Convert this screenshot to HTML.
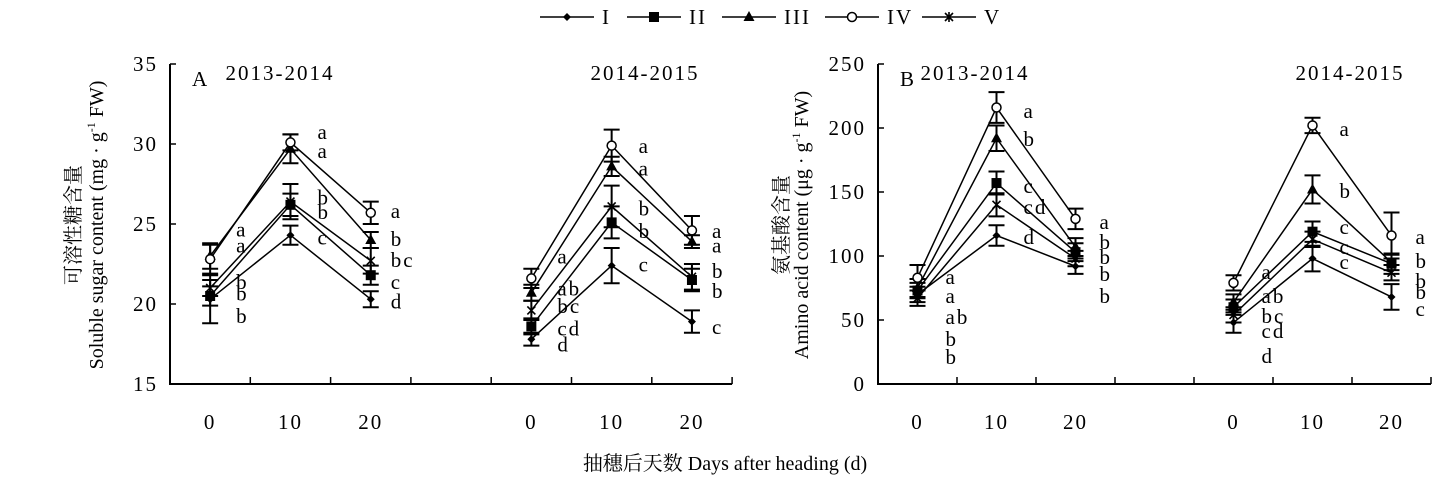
<!DOCTYPE html>
<html><head><meta charset="utf-8">
<style>
body{margin:0;background:#fff;}
svg{display:block;font-family:"Liberation Serif","Noto Serif CJK SC",serif;}
.num{letter-spacing:2px;}
</style></head>
<body>
<svg id="chart" width="1449" height="479" viewBox="0 0 1449 479" xmlns="http://www.w3.org/2000/svg">
  <g id="legend"></g>
  <g id="panels"></g>
  <text x="725" y="470" font-size="20" text-anchor="middle">抽穗后天数 Days after heading (d)</text>
</svg>
<script>
const seriesNames = ["I","II","III","IV","V"];
const dayLabels = ["0","10","20"];
const seasons = ["2013-2014","2014-2015"];
// Panel A: soluble sugar, [season][series][day]
const sugarValues = [
  [[20.3,24.3,20.3],[20.5,26.2,21.8],[23.0,29.7,24.0],[22.8,30.1,25.7],[21.0,26.4,22.7]],
  [[17.8,22.4,18.9],[18.6,25.1,21.5],[20.7,28.6,23.9],[21.6,29.9,24.6],[19.6,26.1,21.7]]
];
const sugarErrors = [
  [[1.5,0.6,0.5],[0.6,0.7,0.6],[0.8,0.9,0.5],[0.9,0.5,0.7],[0.5,1.1,0.8]],
  [[0.4,1.1,0.7],[0.5,1.0,0.7],[0.5,0.6,0.4],[0.6,1.0,0.9],[0.6,1.3,0.8]]
];
const sugarLetters = [
  [["a","a","b","b","b"],["a","a","b","b","c"],["a","b","bc","c","d"]],
  [["a","ab","bc","cd","d"],["a","a","b","b","c"],["a","a","b","b","c"]]
];
const sugarLetterPos = [
  [[24.6,23.6,21.3,20.6,19.2],[30.7,29.5,26.6,25.7,24.1],[25.75,24.0,22.7,21.3,20.1]],
  [[22.9,20.9,19.8,18.4,17.4],[29.8,28.4,25.9,24.5,22.4],[24.5,23.6,22.0,20.75,18.5]]
];
// Panel B: amino acid
const aminoValues = [
  [[70,116,92],[73,157,103],[75,192,107],[83,216,129],[67,140,98]],
  [[48,98,68],[60,119,94],[64,152,95],[79,202,116],[54,113,87]]
];
const aminoErrors = [
  [[6,8,6],[6,9,7],[7,10,7],[10,12,8],[6,9,6]],
  [[8,10,10],[6,8,8],[6,11,6],[6,6,18],[6,6,6]]
];
const aminoLetters = [
  [["a","a","ab","b","b"],["a","b","c","cd","d"],["a","b","b","b","b"]],
  [["a","ab","bc","cd","d"],["a","b","c","c","c"],["a","b","b","b","c"]]
];
const aminoLetterPos = [
  [[82.8,68,51.6,34.4,20.3],[212.5,190.6,153.9,137.5,114],[125.8,110.2,98.4,85.2,68]],
  [[86.7,68,52.3,40.6,21.1],[198.4,150,121.9,106.25,94.5],[114,95.3,79.7,71.1,57.8]]
];
const sugarTicks = [15,20,25,30,35];
const aminoTicks = [0,50,100,150,200,250];

const NS="http://www.w3.org/2000/svg";
function mk(tag,attrs,parent){const e=document.createElementNS(NS,tag);for(const k in attrs)e.setAttribute(k,attrs[k]);parent.appendChild(e);return e;}

function marker(g,s,x,y){
  let m;
  if(s===0){m=mk("polygon",{points:`${x},${y-4} ${x+4},${y} ${x},${y+4} ${x-4},${y}`,fill:"#000"},g);}
  else if(s===1){m=mk("rect",{x:x-5,y:y-5,width:10,height:10,fill:"#000"},g);}
  else if(s===2){m=mk("polygon",{points:`${x},${y-6} ${x+5.5},${y+4} ${x-5.5},${y+4}`,fill:"#000"},g);}
  else if(s===3){m=mk("circle",{cx:x,cy:y,r:4.5,fill:"#fff",stroke:"#000","stroke-width":1.5},g);}
  else {m=mk("path",{d:`M${x-4},${y-4}L${x+4},${y+4}M${x+4},${y-4}L${x-4},${y+4}M${x},${y-5}L${x},${y+5}`,stroke:"#000","stroke-width":1.6},g);}
  
  
}

const panels=[
 {id:"A",x0:170,cw:80.3,min:15,max:35,ticks:sugarTicks,vals:sugarValues,errs:sugarErrors,lets:sugarLetters,lpos:sugarLetterPos,loff:[26,27,20],
  t1:"可溶性糖含量",t2:"Soluble sugar content (mg · g",tx:[80,103],titleX:[280,645]},
 {id:"B",x0:878,cw:79,min:0,max:250,ticks:aminoTicks,vals:aminoValues,errs:aminoErrors,lets:aminoLetters,lpos:aminoLetterPos,loff:[28,27,24],
  t1:"氨基酸含量",t2:"Amino acid content (μg · g",tx:[788,808],titleX:[975,1350]}
];
const yTop=64,yBot=384;
const root=document.getElementById("panels");
panels.forEach(p=>{
  const g=mk("g",{},root);
  
  
  const Y=v=>yBot-(v-p.min)/(p.max-p.min)*(yBot-yTop);
  const X=(season,day)=>p.x0+p.cw*(season*4+day+0.5);
  const xEnd=p.x0+p.cw*7;
  const ax=mk("path",{d:`M${p.x0},${yTop}L${p.x0},${yBot}L${xEnd},${yBot}`,fill:"none",stroke:"#000","stroke-width":2},g);
  
  
  p.ticks.forEach(t=>{
    mk("line",{x1:p.x0,x2:p.x0+6,y1:Y(t),y2:Y(t),stroke:"#000","stroke-width":1.5},g);
    const tl=mk("text",{x:p.x0-12,y:Y(t)+7,"font-size":21,"text-anchor":"end",class:"num"},g);
    tl.textContent=t;
    
    
  });
  for(let k=1;k<=7;k++){mk("line",{x1:p.x0+p.cw*k,x2:p.x0+p.cw*k,y1:yBot,y2:yBot-7,stroke:"#000","stroke-width":1.5},g);}
  seasons.forEach((sn,si)=>{
    dayLabels.forEach((d,di)=>{
      const t=mk("text",{x:X(si,di),y:429,"font-size":21,"text-anchor":"middle",class:"num"},g);
      t.textContent=d;
      
      
    });
    const st=mk("text",{x:p.titleX[si],y:80,"font-size":21,"text-anchor":"middle",class:"num"},g);
    st.textContent=sn;
    
    
    for(let s=0;s<5;s++){
      const pts=p.vals[si][s].map((v,di)=>`${X(si,di)},${Y(v)}`).join(" ");
      const pl=mk("polyline",{points:pts,fill:"none",stroke:"#000","stroke-width":1.5},g);
      
      
      p.vals[si][s].forEach((v,di)=>{
        const x=X(si,di),e=p.errs[si][s][di];
        const eb=mk("path",{d:`M${x},${Y(v+e)}L${x},${Y(v-e)}M${x-8},${Y(v+e)}L${x+8},${Y(v+e)}M${x-8},${Y(v-e)}L${x+8},${Y(v-e)}`,stroke:"#000","stroke-width":2,fill:"none"},g);
        
        
      });
    }
    for(let s=0;s<5;s++){p.vals[si][s].forEach((v,di)=>marker(g,s,X(si,di),Y(v)));}
    for(let di=0;di<3;di++){
      p.lets[si][di].forEach((l,k)=>{
        const t=mk("text",{x:X(si,di)+p.loff[di],y:Y(p.lpos[si][di][k])+6,"font-size":21,class:"num"},g);
        t.textContent=l;
        
        
      });
    }
  });
  const pl=mk("text",{x:p.x0+22,y:86,"font-size":21},g);
  pl.textContent=p.id;
  
  
  const t1=mk("text",{x:p.tx[0],y:225,"font-size":20,"text-anchor":"middle",transform:`rotate(-90 ${p.tx[0]} 225)`},g);
  t1.textContent=p.t1;
  
  
  const t2=mk("text",{x:p.tx[1],y:225,"font-size":20,"text-anchor":"middle",transform:`rotate(-90 ${p.tx[1]} 225)`},g);
  t2.innerHTML=p.t2+'<tspan font-size="12" dy="-8">-1</tspan><tspan dy="8"> FW)</tspan>';
  
  
});
// legend
const lg=document.getElementById("legend");
const legX=[540,627,722,825,922];
seriesNames.forEach((n,s)=>{
  const g=mk("g",{},lg);
  
  
  const x=legX[s];
  mk("line",{x1:x,x2:x+54,y1:17,y2:17,stroke:"#000","stroke-width":1.5},g);
  marker(g,s,x+27,17);
  const t=mk("text",{x:x+62,y:24,"font-size":21,class:"num"},g);
  t.textContent=n;
});
</script>
</body></html>
